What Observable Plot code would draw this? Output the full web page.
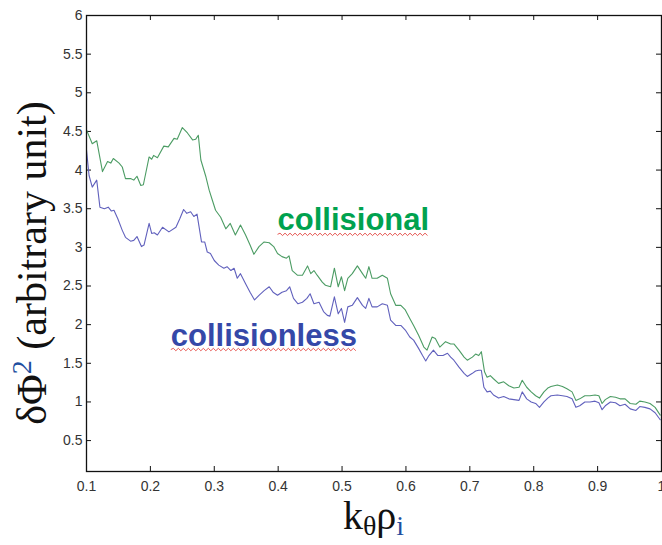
<!DOCTYPE html>
<html>
<head>
<meta charset="utf-8">
<script src="https://cdn.jsdelivr.net/npm/d3@7"></script>
<script src="https://cdn.jsdelivr.net/npm/@observablehq/plot@0.6"></script>
<style>
  html, body { margin: 0; padding: 0; background: #fff; }
  #chart { width: 662px; height: 545px; overflow: hidden; }
</style>
</head>
<body>
<div id="chart"></div>
<script>
// ---- data ----
const kCollisional = [0.100,0.109,0.116,0.125,0.133,0.138,0.142,0.151,0.156,0.161,0.169,0.174,0.179,0.185,0.189,0.198,0.202,0.205,0.211,0.221,0.228,0.237,0.242,0.250,0.258,0.266,0.271,0.275,0.279,0.287,0.292,0.297,0.302,0.310,0.318,0.325,0.333,0.341,0.349,0.356,0.362,0.370,0.378,0.386,0.393,0.399,0.406,0.413,0.417,0.422,0.430,0.438,0.446,0.451,0.456,0.461,0.469,0.474,0.482,0.488,0.494,0.499,0.504,0.509,0.516,0.524,0.532,0.537,0.542,0.547,0.555,0.563,0.571,0.576,0.584,0.592,0.599,0.606,0.612,0.620,0.628,0.633,0.641,0.646,0.653,0.662,0.670,0.675,0.683,0.691,0.696,0.704,0.709,0.714,0.718,0.723,0.727,0.732,0.737,0.745,0.753,0.761,0.769,0.777,0.782,0.789,0.796,0.803,0.809,0.816,0.822,0.827,0.837,0.845,0.852,0.860,0.866,0.872,0.880,0.888,0.896,0.902,0.907,0.912,0.920,0.928,0.935,0.943,0.951,0.960,0.966,0.974,0.982,0.990,0.998];
const phiCollisional = [4.52,4.34,4.38,3.98,4.11,4.09,4.15,4.09,4.04,3.89,3.89,3.87,3.92,3.80,3.81,4.17,4.14,4.19,4.16,4.31,4.30,4.41,4.40,4.55,4.48,4.39,4.40,4.45,4.13,3.91,3.74,3.61,3.48,3.39,3.24,3.31,3.16,3.29,3.16,3.03,2.91,3.01,3.07,3.06,3.01,2.92,2.88,2.86,2.89,2.70,2.64,2.64,2.76,2.66,2.70,2.64,2.55,2.51,2.49,2.73,2.49,2.62,2.44,2.60,2.66,2.76,2.66,2.60,2.75,2.60,2.60,2.64,2.60,2.40,2.25,2.25,2.19,2.08,1.99,1.86,1.71,1.67,1.84,1.82,1.71,1.78,1.75,1.75,1.67,1.58,1.54,1.58,1.62,1.60,1.65,1.39,1.32,1.34,1.30,1.24,1.26,1.21,1.18,1.19,1.28,1.19,1.13,1.08,1.05,1.13,1.18,1.20,1.22,1.20,1.17,1.13,1.02,1.04,1.08,1.08,1.09,1.08,0.98,1.03,1.07,1.06,1.04,1.04,0.98,0.97,1.01,1.00,0.98,0.93,0.83];

const kCollisionless = [0.100,0.104,0.109,0.116,0.121,0.128,0.134,0.139,0.143,0.149,0.156,0.161,0.169,0.174,0.179,0.186,0.190,0.198,0.202,0.206,0.211,0.219,0.229,0.240,0.246,0.252,0.257,0.263,0.268,0.273,0.280,0.285,0.289,0.294,0.300,0.307,0.315,0.320,0.326,0.331,0.336,0.341,0.349,0.356,0.363,0.370,0.378,0.386,0.392,0.399,0.406,0.413,0.418,0.424,0.431,0.438,0.445,0.450,0.456,0.464,0.471,0.477,0.481,0.488,0.494,0.499,0.504,0.509,0.516,0.524,0.532,0.537,0.542,0.547,0.555,0.563,0.571,0.576,0.584,0.592,0.599,0.606,0.612,0.620,0.626,0.631,0.636,0.643,0.650,0.658,0.665,0.670,0.675,0.683,0.691,0.696,0.704,0.709,0.714,0.718,0.722,0.727,0.732,0.737,0.745,0.753,0.761,0.769,0.777,0.782,0.789,0.796,0.803,0.809,0.816,0.822,0.827,0.837,0.845,0.852,0.860,0.866,0.872,0.880,0.888,0.896,0.902,0.907,0.912,0.920,0.928,0.935,0.943,0.951,0.960,0.966,0.974,0.982,0.990,0.998];
const phiCollisionless = [4.26,3.93,3.78,3.87,3.52,3.50,3.52,3.47,3.48,3.37,3.22,3.13,3.08,3.09,3.14,3.01,3.03,3.31,3.18,3.19,3.16,3.26,3.20,3.26,3.37,3.49,3.44,3.46,3.40,3.43,3.07,3.07,2.94,2.92,2.83,2.77,2.73,2.75,2.70,2.73,2.60,2.66,2.53,2.42,2.32,2.38,2.44,2.49,2.42,2.38,2.42,2.44,2.49,2.34,2.27,2.29,2.34,2.40,2.27,2.29,2.17,2.12,2.11,2.36,2.14,2.21,2.03,2.23,2.25,2.35,2.25,2.21,2.34,2.23,2.23,2.27,2.25,2.06,1.99,1.99,1.93,1.84,1.80,1.69,1.60,1.53,1.60,1.67,1.60,1.60,1.63,1.58,1.54,1.45,1.37,1.33,1.37,1.40,1.41,1.41,1.19,1.13,1.14,1.09,1.05,1.07,1.04,1.03,1.02,1.13,1.04,1.00,0.98,0.93,1.00,1.05,1.08,1.09,1.08,1.07,1.04,0.93,0.95,1.00,1.00,1.01,0.99,0.90,0.95,1.00,0.99,0.95,0.97,0.91,0.89,0.94,0.93,0.91,0.86,0.77];

const xTicks = [0.1,0.2,0.3,0.4,0.5,0.6,0.7,0.8,0.9,1];
const yTicks = [0.5,1,1.5,2,2.5,3,3.5,4,4.5,5,5.5,6];
const xDomain = [0.1, 1];
const yDomain = [0.1, 6];

const seriesNames = ["collisional", "collisionless"];
const labelK = [0.399, 0.232];
const labelPhi = [3.22, 1.73];

// ---- layout / style ----
const W = 662, H = 545;
const mL = 86, mR = 1, mT = 15, mB = 74;
const innerW = W - mL - mR, innerH = H - mT - mB;
const tick = 5;
const lineColors = ["#4c9c64", "#6161bd"];
const labelColors = ["#00a24f", "#3548a8"];

const plot = Plot.plot({
  width: W, height: H,
  marginLeft: mL, marginRight: mR, marginTop: mT, marginBottom: mB,
  x: {domain: xDomain},
  y: {domain: yDomain},
  style: {background: "#fff", color: "#333", fontFamily: "'Liberation Sans', Arial, sans-serif", fontSize: "14px", overflow: "visible"},
  marks: [
    Plot.axisX(xTicks, {tickSize: 0, tickPadding: 10, tickFormat: d => String(d), label: null, fontSize: 14}),
    Plot.axisY(yTicks, {tickSize: 0, tickPadding: 4, tickFormat: d => String(d), label: null, fontSize: 14}),
    Plot.tickX(xTicks, {x: d => d, insetTop: innerH - tick, stroke: "#111"}),
    Plot.tickX(xTicks, {x: d => d, insetBottom: innerH - tick, stroke: "#111"}),
    Plot.tickY(yTicks, {y: d => d, insetRight: innerW - tick, stroke: "#111"}),
    Plot.tickY(yTicks, {y: d => d, insetLeft: innerW - tick, stroke: "#111"}),
    Plot.line(kCollisional, {x: d => d, y: (d, i) => phiCollisional[i], stroke: lineColors[0], strokeWidth: 1.1}),
    Plot.line(kCollisionless, {x: d => d, y: (d, i) => phiCollisionless[i], stroke: lineColors[1], strokeWidth: 1.1}),
    Plot.frame({stroke: "#111", strokeWidth: 1.3}),
    Plot.text(seriesNames, {
      x: (d, i) => labelK[i], y: (d, i) => labelPhi[i], text: d => d,
      fill: (d, i) => labelColors[i], textAnchor: "start", lineAnchor: "bottom",
      fontSize: 31, fontWeight: "bold", fontFamily: "'Liberation Sans', Arial, sans-serif",
      className: "series-label"
    })
  ]
});
document.getElementById("chart").appendChild(plot);

const svg = d3.select(plot);

// red wavy (spell-check style) underline beneath each series label, sized from the text's own box
svg.selectAll(".series-label text").each(function () {
  const b = this.getBBox();
  const y0 = b.y + b.height - 3;
  const amp = 1.2, step = 2.5;
  let d = `M${b.x},${y0}`;
  let up = true;
  for (let xx = b.x + step; xx <= b.x + b.width; xx += step) {
    d += `L${xx},${y0 + (up ? -amp : amp)}`;
    up = !up;
  }
  const p = d3.select(this.parentNode).append("path")
    .attr("d", d).attr("fill", "none").attr("stroke", "#e0302a").attr("stroke-width", 0.8);
  const t = this.getAttribute("transform");
  if (t) p.attr("transform", t);
});

// axis titles with sub/superscripts
const serif = "'Liberation Serif', 'Times New Roman', serif";
const xl = svg.append("text")
  .attr("x", mL + innerW / 2).attr("y", 529)
  .attr("text-anchor", "middle")
  .attr("font-family", serif).attr("font-size", 40).attr("fill", "#111");
xl.append("tspan").text("k");
xl.append("tspan").attr("dy", 6).attr("font-size", 28).text("θ");
xl.append("tspan").attr("dy", -6).text("ρ");
xl.append("tspan").attr("dy", 6).attr("font-size", 28).attr("fill", "#1f4fa0").text("i");

const yl = svg.append("text")
  .attr("transform", `translate(46, ${263}) rotate(-90)`)
  .attr("text-anchor", "middle")
  .attr("font-family", serif).attr("font-size", 42).attr("fill", "#111");
yl.append("tspan").text("δΦ");
yl.append("tspan").attr("baseline-shift", "super").attr("font-size", 28).attr("fill", "#1f4fa0").text("2");
yl.append("tspan").text(" (arbitrary unit)");
</script>
</body>
</html>
